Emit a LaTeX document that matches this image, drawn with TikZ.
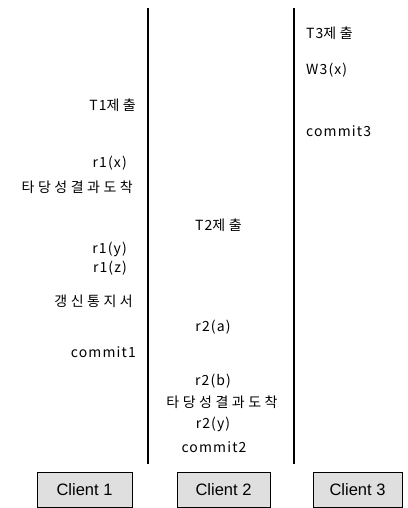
\documentclass[tikz,border=0pt]{standalone}
\usepackage{fontspec}
\setmainfont{Noto Sans CJK KR}[LetterSpace=8]
\newfontfamily\kfont{Noto Sans CJK KR}[LetterSpace=25]
\newfontfamily\cfont{Liberation Sans}
\begin{document}
\begin{tikzpicture}[x=1pt,y=-1pt,
  lbl/.style={inner sep=0pt, font=\fontsize{14}{16}\selectfont},
  lane/.style={line width=2.6pt},
  clientbox/.style={draw=black, line width=0.6pt, fill=gray!25, inner sep=0pt,
    minimum height=35pt, font=\cfont\fontsize{16.5}{18}\selectfont}]
\useasboundingbox (0,0) rectangle (407,508);
% lanes
\coordinate (a1) at (148,8);
\coordinate (a2) at (148,464);
\coordinate (b1) at (294,8);
\coordinate (b2) at (294,464);
\draw[lane] (a1) -- (a2);
\draw[lane] (b1) -- (b2);
% client 1 column
\node[lbl, anchor=east] (t1) at (136,105) {T1{\kfont 제출}};
\node[lbl, anchor=east] (r1x) at (127,163) {r1(x)};
\node[lbl, anchor=east] (v1) at (133,187) {\kfont 타당성결과도착};
\node[lbl, anchor=east] (r1y) at (127,249) {r1(y)};
\node[lbl, anchor=east] (r1z) at (127,268) {r1(z)};
\node[lbl, anchor=east] (u1) at (133,301) {\kfont 갱신통지서};
\node[lbl, anchor=east] (c1t) at (136,352) {commit1};
% client 2 column
\node[lbl, anchor=west] (t2) at (195,225) {T2{\kfont 제출}};
\node[lbl] (r2a) at (213,327) {r2(a)};
\node[lbl] (r2b) at (213,381) {r2(b)};
\node[lbl] (v2) at (222,402) {\kfont 타당성결과도착};
\node[lbl] (r2y) at (213,424) {r2(y)};
\node[lbl] (c2t) at (214,447) {commit2};
% client 3 column
\node[lbl, anchor=west] (t3) at (306,33) {T3{\kfont 제출}};
\node[lbl, anchor=west] (w3) at (306,70) {W3(x)};
\node[lbl, anchor=west] (c3t) at (306,131) {commit3};
% client boxes
\node[clientbox, minimum width=95pt] (cl1) at (84.5,489.5) {Client 1};
\node[clientbox, minimum width=93pt] (cl2) at (223.5,489.5) {Client 2};
\node[clientbox, minimum width=89pt] (cl3) at (357.5,489.5) {Client 3};
\end{tikzpicture}
\end{document}
